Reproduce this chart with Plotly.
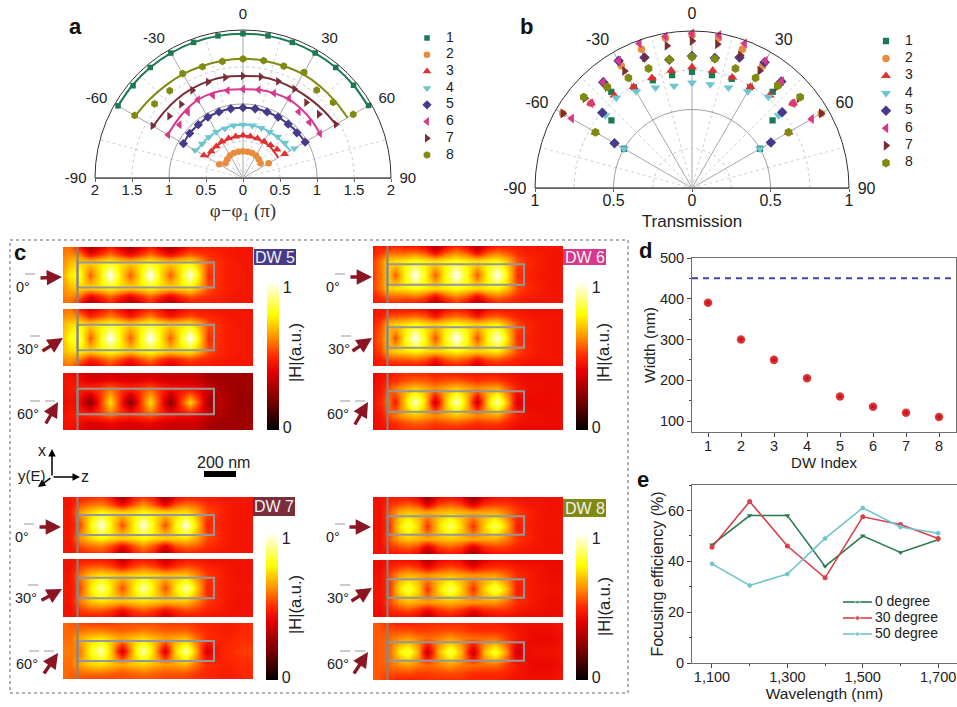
import plotly.graph_objects as go

W, H = 957, 707
FONT = "Liberation Sans"

# ---------- panels a, b ----------
ANGLES = [-60, -50, -40, -30, -20, -10, 0, 10, 20, 30, 40, 50, 60]
SERIES_NAMES = ["1", "2", "3", "4", "5", "6", "7", "8"]
SERIES_COLORS = ["#1b7a52", "#e88b3c", "#e0302f", "#6cc5cf", "#463a8a", "#d8388c", "#7a2d36", "#808a10"]
SERIES_SYMBOLS = ["square", "circle", "triangle-up", "triangle-down", "diamond", "triangle-left", "triangle-right", "hexagon"]
SYMBOL_SIZES = [5, 6, 7, 7, 6.5, 7, 7, 7]

PHASE_1 = [1.95, 1.94, 1.95, 1.95, 1.95, 1.95, 1.95, 1.95, 1.95, 1.95, 1.95, 1.95, 1.96]
PHASE_2 = [0.37, 0.31, 0.33, 0.35, 0.36, 0.36, 0.36, 0.36, 0.36, 0.35, 0.33, 0.31, 0.40]
PHASE_3 = [0.61, 0.56, 0.56, 0.57, 0.57, 0.57, 0.575, 0.57, 0.57, 0.57, 0.58, 0.60, 0.65]
PHASE_4 = [0.75, 0.72, 0.72, 0.72, 0.71, 0.72, 0.72, 0.72, 0.72, 0.72, 0.73, 0.74, 0.80]
PHASE_5 = [0.93, 0.94, 0.94, 0.95, 0.95, 0.95, 0.95, 0.95, 0.95, 0.95, 0.95, 0.95, 0.97]
PHASE_6 = [1.17, 1.12, 1.16, 1.22, 1.19, 1.20, 1.20, 1.21, 1.22, 1.24, 1.17, 1.17, 1.20]
PHASE_7 = [1.41, 1.30, 1.30, 1.37, 1.38, 1.38, 1.38, 1.39, 1.39, 1.39, 1.33, 1.34, 1.45]
PHASE_8 = [1.69, 1.56, 1.54, 1.63, 1.60, 1.60, 1.61, 1.61, 1.61, 1.65, 1.55, 1.59, 1.72]

FIT_1 = [1.95, 1.95, 1.95, 1.95, 1.95, 1.95, 1.95, 1.95, 1.95, 1.95, 1.95, 1.95, 1.95]
FIT_2 = [None, 0.31, 0.33, 0.34, 0.35, 0.36, 0.36, 0.36, 0.35, 0.34, 0.33, 0.31, None]
FIT_3 = [0.56, 0.56, 0.56, 0.56, 0.56, 0.57, 0.57, 0.57, 0.56, 0.56, 0.56, 0.55, 0.55]
FIT_4 = [0.73, 0.72, 0.72, 0.72, 0.72, 0.72, 0.72, 0.72, 0.72, 0.72, 0.72, 0.72, 0.74]
FIT_5 = [0.93, 0.94, 0.94, 0.95, 0.95, 0.95, 0.95, 0.95, 0.95, 0.95, 0.95, 0.96, 0.97]
FIT_6 = [1.17, 1.18, 1.20, 1.22, 1.22, 1.21, 1.20, 1.21, 1.22, 1.23, 1.22, 1.21, 1.20]
FIT_7 = [1.40, 1.39, 1.39, 1.39, 1.39, 1.39, 1.38, 1.39, 1.39, 1.39, 1.40, 1.42, 1.45]
FIT_8 = [1.68, 1.65, 1.63, 1.62, 1.61, 1.61, 1.61, 1.61, 1.61, 1.62, 1.62, 1.62, 1.63]

TRANS_1 = [0.50, 0.67, 0.80, 0.74, 0.73, 0.73, 0.74, 0.73, 0.74, 0.74, 0.80, 0.67, 0.50]
TRANS_2 = [0.95, 0.84, 0.86, 0.90, 0.94, 0.97, 0.975, 0.97, 0.94, 0.90, 0.86, 0.84, 0.95]
TRANS_3 = [0.71, 0.84, 0.77, 0.744, 0.746, 0.76, 0.77, 0.76, 0.75, 0.745, 0.77, 0.84, 0.71]
TRANS_4 = [0.50, 0.72, 0.75, 0.71, 0.68, 0.66, 0.67, 0.67, 0.68, 0.71, 0.757, 0.72, 0.50]
TRANS_5 = [0.57, 0.746, 0.88, 0.935, 0.885, 0.83, 0.84, 0.84, 0.885, 0.925, 0.885, 0.75, 0.58]
TRANS_6 = [0.885, 0.84, 0.88, 0.935, 0.98, 0.98, 0.985, 0.99, 0.98, 0.935, 0.888, 0.84, 0.88]
TRANS_7 = [0.95, 0.89, 0.84, 0.86, 0.885, 0.92, 0.937, 0.93, 0.90, 0.863, 0.84, 0.89, 0.95]
TRANS_8 = [0.71, 0.90, 0.84, 0.81, 0.81, 0.83, 0.835, 0.835, 0.81, 0.81, 0.85, 0.90, 0.71]

PHASES = [PHASE_1, PHASE_2, PHASE_3, PHASE_4, PHASE_5, PHASE_6, PHASE_7, PHASE_8]
FITS = [FIT_1, FIT_2, FIT_3, FIT_4, FIT_5, FIT_6, FIT_7, FIT_8]
TRANS = [TRANS_1, TRANS_2, TRANS_3, TRANS_4, TRANS_5, TRANS_6, TRANS_7, TRANS_8]

ANG_TICKS = [-90, -60, -30, 0, 30, 60, 90]
ANG_MINOR = [-75, -45, -15, 15, 45, 75]

# ---------- panel c (field maps): edge / outer / side / core rows ----------
Z_5 = [0, 7, 17, 27, 37, 47, 57, 67, 77, 87, 97, 107, 117, 127, 137, 145, 155, 165, 175, 190]
Z_6 = [0, 8, 15, 22, 32, 42, 52, 62, 72, 83, 94, 104, 114, 124, 134, 144, 154, 165, 177, 190]
Z_7 = [0, 7, 17, 27, 38, 48, 59, 70, 80, 91, 102, 112, 123, 133, 144, 151, 159, 167, 178, 190]
Z_8 = [0, 7, 17, 26, 35, 45, 54, 65, 77, 88, 100, 111, 122, 133, 144, 151, 159, 167, 178, 190]
X_ROWS = [-28, -21, -13, 0, 13, 21, 28]

DW5_0_EDGE = [.58,.58,.45,.28,.38,.48,.38,.28,.38,.48,.38,.28,.38,.46,.46,.46,.46,.46,.45,.45]
DW5_0_OUTER = [.60,.62,.58,.42,.50,.58,.50,.42,.50,.58,.50,.42,.50,.56,.52,.50,.48,.46,.45,.45]
DW5_0_SIDE = [.62,.68,.72,.72,.74,.78,.74,.72,.74,.78,.74,.72,.74,.76,.66,.55,.50,.47,.46,.45]
DW5_0_CORE = [.66,.76,.80,.56,.75,1.0,.75,.56,.75,1.0,.75,.56,.75,.98,.72,.50,.50,.47,.46,.45]
DW5_30_EDGE = [.58,.60,.47,.38,.44,.52,.44,.36,.44,.50,.44,.36,.42,.47,.46,.46,.45,.45,.45,.45]
DW5_30_OUTER = [.62,.64,.60,.48,.54,.60,.54,.46,.54,.60,.52,.46,.50,.54,.50,.49,.47,.46,.45,.45]
DW5_30_SIDE = [.68,.72,.76,.72,.76,.80,.76,.72,.76,.80,.76,.72,.74,.76,.66,.55,.50,.47,.46,.45]
DW5_30_CORE = [.70,.80,.84,.56,.77,1.0,.77,.56,.77,1.0,.77,.56,.77,1.0,.72,.50,.50,.47,.46,.45]
DW5_60_EDGE = [.44,.44,.40,.36,.36,.38,.36,.36,.36,.36,.36,.34,.34,.34,.32,.28,.27,.27,.27,.28]
DW5_60_OUTER = [.44,.45,.43,.38,.40,.42,.40,.38,.40,.42,.38,.36,.36,.36,.34,.30,.28,.27,.27,.28]
DW5_60_SIDE = [.44,.46,.48,.50,.52,.58,.52,.50,.52,.56,.50,.46,.44,.44,.40,.34,.30,.28,.26,.28]
DW5_60_CORE = [.42,.44,.42,.22,.50,.74,.50,.22,.50,.74,.50,.22,.50,.72,.50,.28,.32,.30,.26,.26]

DW6_0_EDGE = [.46,.48,.46,.50,.46,.46,.42,.28,.42,.50,.42,.28,.42,.48,.47,.46,.45,.45,.45,.45]
DW6_0_OUTER = [.48,.52,.58,.58,.58,.60,.56,.44,.56,.62,.56,.44,.56,.60,.56,.50,.47,.46,.45,.45]
DW6_0_SIDE = [.52,.60,.72,.74,.76,.80,.76,.74,.76,.80,.76,.74,.76,.78,.70,.55,.50,.47,.45,.45]
DW6_0_CORE = [.52,.60,.72,.56,.78,1.0,.78,.56,.78,1.0,.78,.56,.78,1.0,.76,.50,.48,.46,.45,.45]
DW6_30_EDGE = [.44,.46,.44,.46,.46,.46,.44,.34,.44,.48,.44,.34,.44,.46,.45,.45,.44,.44,.44,.44]
DW6_30_OUTER = [.45,.48,.54,.55,.56,.58,.55,.46,.55,.58,.55,.46,.54,.56,.52,.48,.46,.45,.45,.45]
DW6_30_SIDE = [.48,.54,.68,.72,.74,.78,.74,.72,.74,.78,.74,.72,.74,.76,.66,.54,.49,.46,.45,.45]
DW6_30_CORE = [.50,.58,.70,.54,.78,1.0,.78,.54,.78,1.0,.78,.54,.78,.98,.74,.50,.48,.46,.45,.45]
DW6_60_EDGE = [.42,.44,.44,.48,.50,.50,.50,.48,.48,.48,.46,.46,.46,.46,.44,.42,.42,.42,.42,.43]
DW6_60_OUTER = [.42,.45,.48,.50,.54,.56,.55,.52,.54,.55,.53,.50,.52,.52,.48,.44,.43,.43,.43,.43]
DW6_60_SIDE = [.43,.46,.54,.60,.66,.70,.66,.62,.66,.70,.66,.62,.64,.66,.56,.47,.44,.43,.43,.43]
DW6_60_CORE = [.44,.50,.60,.46,.72,.96,.72,.34,.68,.96,.68,.34,.70,.94,.68,.38,.42,.42,.42,.43]

DW7_0_EDGE = [.45,.45,.48,.50,.52,.46,.28,.46,.52,.46,.26,.42,.48,.47,.46,.46,.45,.45,.45,.45]
DW7_0_OUTER = [.45,.45,.54,.58,.60,.54,.42,.54,.62,.54,.40,.54,.58,.56,.50,.49,.47,.46,.45,.45]
DW7_0_SIDE = [.46,.46,.64,.72,.78,.74,.72,.74,.78,.74,.72,.72,.74,.66,.54,.52,.48,.46,.45,.45]
DW7_0_CORE = [.46,.46,.54,.76,.98,.76,.54,.76,.98,.76,.54,.76,.98,.74,.48,.50,.47,.46,.45,.45]
DW7_30_EDGE = [.44,.44,.46,.46,.46,.44,.34,.44,.46,.44,.34,.42,.45,.45,.44,.44,.44,.44,.44,.44]
DW7_30_OUTER = [.44,.44,.52,.55,.56,.52,.44,.52,.56,.52,.44,.50,.54,.52,.48,.47,.46,.45,.44,.44]
DW7_30_SIDE = [.45,.45,.60,.70,.74,.72,.70,.72,.74,.72,.70,.70,.70,.62,.52,.50,.47,.45,.44,.44]
DW7_30_CORE = [.46,.46,.54,.74,.92,.74,.54,.74,.94,.74,.54,.74,.94,.72,.48,.50,.47,.46,.45,.45]
DW7_60_EDGE = [.58,.56,.54,.52,.52,.52,.54,.54,.54,.54,.52,.52,.52,.50,.48,.48,.47,.47,.48,.50]
DW7_60_OUTER = [.58,.57,.58,.60,.60,.58,.56,.58,.60,.58,.56,.56,.56,.52,.49,.48,.47,.47,.49,.50]
DW7_60_SIDE = [.58,.58,.66,.72,.74,.70,.66,.70,.72,.68,.64,.66,.68,.58,.50,.49,.48,.48,.50,.50]
DW7_60_CORE = [.60,.60,.60,.78,.94,.70,.36,.70,.94,.70,.36,.72,.92,.66,.36,.44,.48,.50,.52,.52]

DW8_0_EDGE = [.44,.44,.46,.46,.46,.42,.24,.42,.46,.42,.24,.40,.44,.45,.44,.44,.44,.44,.44,.44]
DW8_0_OUTER = [.44,.44,.50,.54,.56,.52,.38,.52,.56,.52,.38,.50,.52,.52,.48,.46,.45,.45,.44,.44]
DW8_0_SIDE = [.44,.44,.56,.66,.70,.68,.66,.68,.70,.68,.66,.66,.66,.60,.52,.50,.47,.45,.44,.44]
DW8_0_CORE = [.44,.44,.52,.74,.84,.72,.50,.72,.88,.72,.50,.72,.88,.70,.46,.48,.46,.45,.45,.45]
DW8_30_EDGE = [.43,.43,.44,.44,.44,.42,.30,.42,.44,.42,.30,.40,.43,.43,.42,.42,.42,.42,.42,.43]
DW8_30_OUTER = [.43,.43,.48,.52,.54,.50,.42,.50,.54,.50,.42,.48,.50,.50,.46,.45,.44,.44,.43,.43]
DW8_30_SIDE = [.44,.44,.54,.64,.68,.66,.64,.66,.68,.66,.64,.64,.64,.58,.50,.48,.46,.44,.43,.43]
DW8_30_CORE = [.45,.45,.52,.74,.84,.72,.50,.72,.88,.72,.50,.72,.86,.70,.46,.48,.46,.45,.44,.44]
DW8_60_EDGE = [.56,.54,.50,.48,.48,.48,.50,.50,.50,.50,.48,.48,.48,.46,.44,.44,.44,.44,.44,.46]
DW8_60_OUTER = [.56,.55,.54,.54,.54,.52,.52,.53,.54,.53,.50,.50,.50,.48,.45,.44,.43,.43,.43,.45]
DW8_60_SIDE = [.56,.56,.58,.62,.64,.60,.58,.60,.64,.60,.58,.58,.58,.52,.46,.44,.42,.42,.42,.44]
DW8_60_CORE = [.56,.56,.58,.76,.84,.66,.33,.66,.86,.68,.33,.68,.84,.64,.34,.42,.44,.44,.44,.45]

HOT = [[0, "#000000"], [0.18, "#6e0000"], [0.40, "#e60000"], [0.50, "#ff2a00"],
       [0.62, "#ff8c00"], [0.78, "#ffff00"], [1, "#ffffff"]]

# ---------- panels d, e ----------
DW_INDEX = [1, 2, 3, 4, 5, 6, 7, 8]
DW_WIDTH = [390, 300, 250, 205, 160, 135, 120, 110]
WIDTH_LIMIT = [450, 450]
WIDTH_LIMIT_X = [0.515, 8.515]

WAVELENGTH = [1100, 1200, 1300, 1400, 1500, 1600, 1700]
EFF_0 = [46.5, 58, 58, 38, 50, 43.5, 48.5]
EFF_30 = [45.5, 63.5, 46, 33.5, 57.5, 54.5, 49]
EFF_50 = [39, 30.5, 35, 49, 61, 53.5, 51]
EFF_NAMES = ["0 degree", "30 degree", "50 degree"]
EFF_COLORS = ["#2a7a50", "#d8404a", "#70c4cc"]
EFF_SYMBOLS = ["triangle-down", "circle", "hexagon"]


def px(x):
    return x / W


def py(y):
    return 1 - y / H


fig = go.Figure()
layout = {}
shapes = []
ann = []
axis_n = [0]


def new_axes(x0, x1, y0, y1, xopts=None, yopts=None):
    axis_n[0] += 1
    n = axis_n[0]
    xname, yname = f"x{n}", f"y{n}"
    base = dict(visible=False, fixedrange=True, automargin=False)
    xa = dict(base, domain=[px(x0), px(x1)], anchor=yname)
    ya = dict(base, domain=[py(y1), py(y0)], anchor=xname)
    xa.update(xopts or {})
    ya.update(yopts or {})
    layout[f"xaxis{n}"] = xa
    layout[f"yaxis{n}"] = ya
    return xname, yname


def text(x, y, s, size=14, color="#222", angle=0, bold=False, family=FONT, anchor="center"):
    ann.append(dict(x=px(x), y=py(y), xref="paper", yref="paper", text=f"<b>{s}</b>" if bold else s,
                    showarrow=False, textangle=angle, xanchor=anchor, yanchor="middle",
                    font=dict(size=size, color=color, family=family)))


def arrow(x0, y0, x1, y1, color="#8b1522", width=3.4, head=2, size=0.9):
    ann.append(dict(x=px(x1), y=py(y1), xref="paper", yref="paper", text="", showarrow=True,
                    ax=x0 - x1, ay=y0 - y1, axref="pixel", ayref="pixel",
                    arrowhead=head, arrowsize=size, arrowwidth=width, arrowcolor=color))


def paper_shape(kind, x0, y0, x1, y1, **kw):
    shapes.append(dict(type=kind, xref="paper", yref="paper", x0=px(x0), x1=px(x1), y0=py(y0), y1=py(y1), **kw))


def polar_panel(key, cx, cy, r, rmax, radial_ticks, solid_r, values, fits, bottom_ticks, title, title_font, tsize, legend_box, lsize, scale):
    layout[key] = dict(
        domain=dict(x=[px(cx - r), px(cx + r)], y=[py(cy), py(cy - r)]),
        sector=[0, 180], bgcolor="rgba(0,0,0,0)",
        angularaxis=dict(direction="clockwise", rotation=90, tickmode="array", tickvals=ANG_TICKS,
                         ticktext=[str(a) for a in ANG_TICKS], ticks="outside", ticklen=5, tickcolor="rgba(0,0,0,0)",
                         showline=True, linecolor="#333", linewidth=1,
                         gridcolor="#a8a8a8", gridwidth=1, tickfont=dict(size=tsize, family=FONT, color="#222")),
        radialaxis=dict(range=[0, rmax], angle=0, tickmode="array", tickvals=radial_ticks, showticklabels=False,
                        ticks="", showline=False, gridcolor="#c8c8c8", griddash="dot", gridwidth=1),
    )
    for a in ANG_MINOR:
        fig.add_trace(go.Scatterpolar(r=[0, rmax], theta=[a, a], mode="lines", subplot=key, showlegend=False,
                                      hoverinfo="skip", line=dict(color="#d0d0d0", width=1, dash="dot")))
    arc = list(range(-90, 91, 5))
    fig.add_trace(go.Scatterpolar(r=[solid_r] * len(arc), theta=arc, mode="lines", subplot=key, showlegend=False,
                                  hoverinfo="skip", line=dict(color="#a0a0a0", width=1)))
    if fits:
        for fit, c in zip(fits, SERIES_COLORS):
            fig.add_trace(go.Scatterpolar(r=fit, theta=ANGLES, mode="lines", subplot=key, showlegend=False,
                                          line=dict(color=c, width=2, shape="spline"), connectgaps=False))
    for name, vals, c, s, size in zip(SERIES_NAMES, values, SERIES_COLORS, SERIES_SYMBOLS, SYMBOL_SIZES):
        fig.add_trace(go.Scatterpolar(r=vals, theta=ANGLES, mode="markers", subplot=key, name=name, showlegend=False,
                                      marker=dict(color=c, symbol=s, size=size * scale)))
    # real cartesian axis along the flat side carries the radial tick labels and the title
    xa, ya = new_axes(cx - r, cx + r, cy - r, cy,
                      dict(visible=True, range=[-rmax, rmax], tickmode="array", tickvals=bottom_ticks,
                           ticktext=[f"{abs(t):g}" for t in bottom_ticks], ticks="outside", ticklen=3,
                           ticklabelstandoff=-5, tickcolor="#666", showline=True, linecolor="#808080", linewidth=1,
                           showgrid=False, zeroline=False, tickfont=dict(size=tsize, family=FONT, color="#222"),
                           title=dict(text=title, font=title_font, standoff=6)),
                      dict(range=[0, rmax]))
    fig.add_trace(go.Scatter(x=[0], y=[0], xaxis=xa, yaxis=ya, mode="markers", marker=dict(opacity=0, size=1),
                             hoverinfo="skip", showlegend=False))
    # key: a small hidden-axis scatter, column 0 holds the symbol, column 1 the label
    mx, tx, y1, y8 = legend_box
    step = (y8 - y1) / 7
    half = (tx - mx) / 2
    lx, ly = new_axes(mx - half, tx + half, y1 - step / 2, y8 + step / 2,
                      dict(range=[-0.5, 1.5]), dict(range=[8.5, 0.5]))
    for i, (name, c, s, size) in enumerate(zip(SERIES_NAMES, SERIES_COLORS, SERIES_SYMBOLS, SYMBOL_SIZES)):
        fig.add_trace(go.Scatter(x=[0], y=[i + 1], xaxis=lx, yaxis=ly, mode="markers", showlegend=False,
                                 marker=dict(color=c, symbol=s, size=size * scale)))
        fig.add_trace(go.Scatter(x=[1], y=[i + 1], xaxis=lx, yaxis=ly, mode="text", text=[name], showlegend=False,
                                 textposition="middle center", textfont=dict(size=lsize, family=FONT, color="#222"),
                                 hoverinfo="skip"))


polar_panel("polar", 243, 178, 148, 2, [0.5, 1.5], 1, PHASES, FITS, [-2, -1.5, -1, -0.5, 0, 0.5, 1, 1.5, 2],
            "\u03c6\u2212\u03c6<sub>1</sub> (\u03c0)", dict(size=19, family="Liberation Serif", color="#333"), 15,
            (427, 450, 38, 155), 14, 1.1)
polar_panel("polar2", 692, 188, 157, 1, [0.25, 0.75], 0.5, TRANS, None, [-1, -0.5, 0, 0.5, 1],
            "Transmission", dict(size=17, family=FONT, color="#222"), 16,
            (886, 909, 41, 163), 14, 1.25)

# ---------- panel c ----------
GROUPS = [
    dict(name="DW 5", z=Z_5, left=63, tops=[(247, 303), (309, 366), (373, 430)], half=12.5, fill="#463a8a",
         rows=[(DW5_0_EDGE, DW5_0_OUTER, DW5_0_SIDE, DW5_0_CORE), (DW5_30_EDGE, DW5_30_OUTER, DW5_30_SIDE, DW5_30_CORE), (DW5_60_EDGE, DW5_60_OUTER, DW5_60_SIDE, DW5_60_CORE)],
         tag=(254, 249, 296, 265), bar=(267, 282, 430), barlabel=(295, 353),
         arrows=[(39, 278, 62, 277), (41, 352, 63, 338), (45, 425, 58, 402)],
         labels=[(23, 287), (28, 349), (28, 414)]),
    dict(name="DW 6", z=Z_6, left=373, tops=[(246, 303), (309, 366), (373, 430)], half=10, fill="#d8388c",
         rows=[(DW6_0_EDGE, DW6_0_OUTER, DW6_0_SIDE, DW6_0_CORE), (DW6_30_EDGE, DW6_30_OUTER, DW6_30_SIDE, DW6_30_CORE), (DW6_60_EDGE, DW6_60_OUTER, DW6_60_SIDE, DW6_60_CORE)],
         tag=(563, 249, 606, 265), bar=(576, 282, 430), barlabel=(603, 353),
         arrows=[(349, 277, 372, 277), (351, 352, 372, 338), (354, 426, 368, 402)],
         labels=[(333, 287), (339, 349), (338, 414)]),
    dict(name="DW 7", z=Z_7, left=63, tops=[(497, 553), (559, 617), (623, 679)], half=10, fill="#7a2d3a",
         rows=[(DW7_0_EDGE, DW7_0_OUTER, DW7_0_SIDE, DW7_0_CORE), (DW7_30_EDGE, DW7_30_OUTER, DW7_30_SIDE, DW7_30_CORE), (DW7_60_EDGE, DW7_60_OUTER, DW7_60_SIDE, DW7_60_CORE)],
         tag=(253, 497, 295, 516), bar=(266, 533, 680), barlabel=(295, 605),
         arrows=[(38, 527, 61, 527), (40, 601, 62, 589), (43, 675, 58, 653)],
         labels=[(22, 537), (26, 598), (27, 664)]),
    dict(name="DW 8", z=Z_8, left=373, tops=[(497, 554), (560, 617), (623, 680)], half=9, fill="#808a10",
         rows=[(DW8_0_EDGE, DW8_0_OUTER, DW8_0_SIDE, DW8_0_CORE), (DW8_30_EDGE, DW8_30_OUTER, DW8_30_SIDE, DW8_30_CORE), (DW8_60_EDGE, DW8_60_OUTER, DW8_60_SIDE, DW8_60_CORE)],
         tag=(563, 499, 606, 517), bar=(576, 533, 680), barlabel=(604, 607),
         arrows=[(348, 527, 371, 527), (350, 602, 372, 588), (353, 675, 368, 652)],
         labels=[(333, 537), (338, 598), (338, 664)]),
]
ANGLE_LABELS = ["0\u00b0", "30\u00b0", "60\u00b0"]

for g in GROUPS:
    left = g["left"]
    for k, ((y0, y1), (edge, outer, side, core)) in enumerate(zip(g["tops"], g["rows"])):
        xa, ya = new_axes(left, left + 190, y0, y1, dict(range=[0, 190]), dict(range=[-28, 28]))
        hm = dict(x=g["z"], y=X_ROWS, z=[edge, outer, side, core, side, outer, edge], xaxis=xa, yaxis=ya, zsmooth="best",
                  colorscale=HOT, zmin=0, zmax=1, hoverinfo="skip", showscale=False)
        if k == 0:
            bx, by0, by1 = g["bar"]
            hm.update(showscale=True, colorbar=dict(
                x=px(bx), xanchor="left", y=py(by1), yanchor="bottom", len=by1 - by0, lenmode="pixels",
                thickness=12, thicknessmode="pixels", outlinewidth=0, xpad=0, ypad=0, ticks="", ticklen=0,
                tickmode="array", tickvals=[0.015, 0.965], ticktext=["0", "1"],
                tickfont=dict(size=16, family=FONT, color="#222")))
        fig.add_trace(go.Heatmap(**hm))
        h = g["half"]
        shapes.append(dict(type="rect", xref=xa, yref=ya, x0=14.5, x1=151, y0=-h, y1=h,
                           line=dict(color="#979797", width=2)))
        shapes.append(dict(type="line", xref=xa, yref=ya, x0=14.5, x1=14.5, y0=-28, y1=28,
                           line=dict(color="#858585", width=2)))
        a = g["arrows"][k]
        arrow(*a)
        lx, ly = g["labels"][k]
        text(lx, ly, ANGLE_LABELS[k], size=14.5)
        # short overlines printed above the angle labels
        paper_shape("line", lx + 2, ly - 13, lx + 12, ly - 13, line=dict(color="#999", width=1))
        if k == 2:
            paper_shape("line", lx + 17, ly - 13, lx + 27, ly - 13, line=dict(color="#999", width=1))
    tx0, ty0, tx1, ty1 = g["tag"]
    paper_shape("rect", tx0, ty0, tx1, ty1, fillcolor=g["fill"], line=dict(width=0))
    text((tx0 + tx1) / 2, (ty0 + ty1) / 2, g["name"], size=16, color="#f2f2f2")
    text(g["barlabel"][0], g["barlabel"][1], "|H|(a.u.)", size=16.5, angle=-90)

paper_shape("rect", 10, 240, 628, 693, line=dict(color="#999", width=1.5, dash="dot"))
arrow(52, 477, 52, 449, color="#000", width=1.5, size=1)
arrow(52, 477, 80, 477, color="#000", width=1.5, size=1)
arrow(52, 477, 38, 487, color="#000", width=1.5, size=1)
text(42, 450, "x", size=16)
text(32, 475, "y(E)", size=15)
text(85, 476, "z", size=16)
paper_shape("rect", 204, 471, 236, 477, fillcolor="#000", line=dict(width=0))
text(223, 462, "200 nm", size=16)

# ---------- panel d ----------
AX_COMMON = dict(visible=True, showline=True, mirror=True, linecolor="#707070", linewidth=1, showgrid=False,
                 zeroline=False, ticks="outside", tickcolor="#444", ticklen=4,
                 tickfont=dict(size=14.5, family=FONT, color="#222"))
xd, yd = new_axes(692, 956, 258, 432,
                  dict(AX_COMMON, range=[0.515, 8.515], tickmode="array", tickvals=DW_INDEX, ticklabelstandoff=-3,
                       title=dict(text="DW Index", standoff=3, font=dict(size=15, family=FONT, color="#222"))),
                  dict(AX_COMMON, range=[73, 500], tickmode="array", tickvals=[100, 200, 300, 400, 500],
                       minor=dict(dtick=50, ticks="outside", ticklen=2, tickcolor="#444"),
                       title=dict(text="Width (nm)", standoff=0, font=dict(size=15.5, family=FONT, color="#222"))))
fig.add_trace(go.Scatter(x=WIDTH_LIMIT_X, y=WIDTH_LIMIT, xaxis=xd, yaxis=yd, mode="lines", showlegend=False,
                         line=dict(color="#4343a5", width=2, dash="6px,5px")))
fig.add_trace(go.Scatter(x=DW_INDEX, y=DW_WIDTH, xaxis=xd, yaxis=yd, mode="markers", showlegend=False,
                         marker=dict(size=8.5, color="#f04040", line=dict(width=0),
                                     gradient=dict(type="radial", color="#b01018"))))

# ---------- panel e ----------
xe, ye = new_axes(692, 957, 485, 663,
                  dict(AX_COMMON, range=[1047, 1750], tickmode="array", tickvals=[1100, 1300, 1500, 1700],
                       ticktext=["1,100", "1,300", "1,500", "1,700"], ticklabelstandoff=-3,
                       minor=dict(dtick=100, ticks="outside", ticklen=2, tickcolor="#444"),
                       title=dict(text="Wavelength (nm)", standoff=3, font=dict(size=15.5, family=FONT, color="#222"))),
                  dict(AX_COMMON, range=[0, 70], tickmode="array", tickvals=[0, 20, 40, 60],
                       minor=dict(dtick=10, ticks="outside", ticklen=2, tickcolor="#444"),
                       title=dict(text="Focusing efficiency (%)", standoff=0, font=dict(size=16, family=FONT, color="#222"))))
for vals, c, s in zip([EFF_0, EFF_30, EFF_50], EFF_COLORS, EFF_SYMBOLS):
    fig.add_trace(go.Scatter(x=WAVELENGTH, y=vals, xaxis=xe, yaxis=ye, mode="lines+markers", showlegend=False,
                             line=dict(color=c, width=1.6), marker=dict(color=c, symbol=s, size=5)))
lgx, lgy = new_axes(843, 950, 594, 642, dict(range=[0, 3.69]), dict(range=[3.5, 0.5]))
for i, (name, c, s) in enumerate(zip(EFF_NAMES, EFF_COLORS, EFF_SYMBOLS)):
    fig.add_trace(go.Scatter(x=[0, 0.5, 1], y=[i + 1] * 3, xaxis=lgx, yaxis=lgy, mode="lines+markers", showlegend=False,
                             hoverinfo="skip", line=dict(color=c, width=1.6), marker=dict(color=c, symbol=s, size=[0, 5, 0])))
    fig.add_trace(go.Scatter(x=[1.1], y=[i + 1], xaxis=lgx, yaxis=lgy, mode="text", text=[name], showlegend=False,
                             textposition="middle right", cliponaxis=False, hoverinfo="skip",
                             textfont=dict(size=14, family=FONT, color="#222")))

# ---------- panel letters ----------
for lab, x, y in [("a", 75, 26), ("b", 526, 26), ("c", 20, 252), ("d", 645, 251), ("e", 643, 479)]:
    text(x, y, lab, size=22, color="#111", bold=True)

fig.update_layout(width=W, height=H, margin=dict(l=0, r=0, t=0, b=0, autoexpand=False), paper_bgcolor="white",
                  plot_bgcolor="white", showlegend=False, shapes=shapes, annotations=ann, **layout)
fig.write_html("out.html", post_script="document.body.style.margin='0';", config=dict(displayModeBar=False))
